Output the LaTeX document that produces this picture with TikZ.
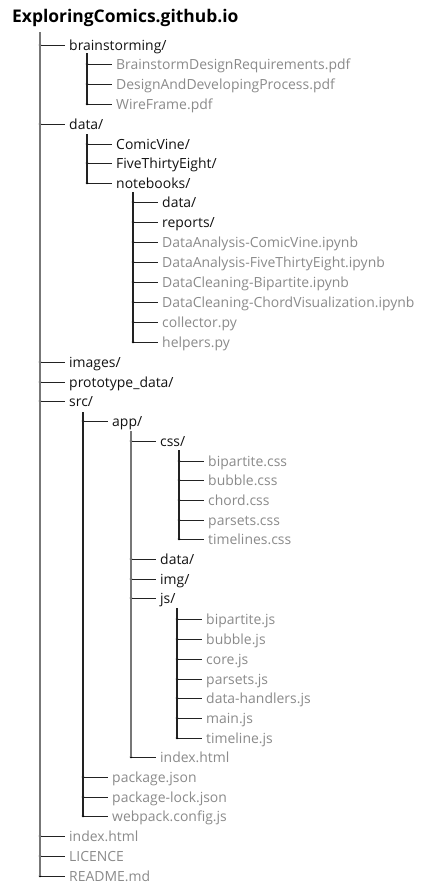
\documentclass[tikz,border=0pt]{standalone}
\usepackage{fontspec}
\setmainfont{Open Sans}
\definecolor{filegray}{HTML}{8A8A8A}
\definecolor{dirblack}{HTML}{111111}
\definecolor{trunkgray}{HTML}{777777}
\definecolor{linedark}{HTML}{222222}

% one entry of the tree: junction x, row y, name, style, label
\newcommand\treeitem[5]{%
  \coordinate (j-#3) at (#1,#2);
  \node[#4] (#3) at ([xshift=25bp]j-#3) {#5};
  \draw[branch] (j-#3) -- (#3.west);
  \fill[black] (j-#3) circle (1.4bp);
}

\begin{document}
\begin{tikzpicture}[x=1bp,y=-1bp,
  entry/.style={anchor=west, inner xsep=4bp, inner ysep=0bp,
    text height=11bp, text depth=0bp, font=\fontsize{14}{16}\selectfont},
  folder/.style={entry, text=dirblack},
  file/.style={entry, text=filegray},
  branch/.style={draw=linedark, line width=0.9bp},
  trunk/.style={draw=linedark, line width=1.1bp},
  graytrunk/.style={draw=trunkgray, line width=1.3bp}]
\useasboundingbox (0,0) rectangle (427,883);

% repository name
\node[anchor=west, inner sep=0pt, font=\bfseries\fontsize{17.5}{20}\selectfont, text=black]
  (root) at (12,18) {ExploringComics.github.io};

% top-level entries
\coordinate (t-root) at (40,32);
\treeitem{40}{45}{bs}{folder}{brainstorming/}
\treeitem{40}{124}{data}{folder}{data/}
\treeitem{40}{362}{images}{folder}{images/}
\treeitem{40}{382}{proto}{folder}{prototype\_data/}
\treeitem{40}{401}{src}{folder}{src/}
\treeitem{40}{836}{idx}{file}{index.html}
\treeitem{40}{856}{lic}{file}{LICENCE}
\treeitem{40}{876}{readme}{file}{README.md}
\draw[graytrunk] (t-root) -- (j-readme);

% brainstorming/
\coordinate (t-bs) at (87,53);
\treeitem{87}{64}{bsdr}{file}{BrainstormDesignRequirements.pdf}
\treeitem{87}{84}{dadp}{file}{DesignAndDevelopingProcess.pdf}
\treeitem{87}{104}{wf}{file}{WireFrame.pdf}
\draw[trunk] (t-bs) -- (j-wf);

% data/
\coordinate (t-data) at (87,134);
\treeitem{87}{144}{cv}{folder}{ComicVine/}
\treeitem{87}{163}{fte}{folder}{FiveThirtyEight/}
\treeitem{87}{183}{nb}{folder}{notebooks/}
\draw[trunk] (t-data) -- (j-nb);

% data/notebooks/
\coordinate (t-nb) at (133,192);
\treeitem{133}{202}{nbdata}{folder}{data/}
\treeitem{133}{222}{nbrep}{folder}{reports/}
\treeitem{133}{242}{dacv}{file}{DataAnalysis-ComicVine.ipynb}
\treeitem{133}{262}{dafte}{file}{DataAnalysis-FiveThirtyEight.ipynb}
\treeitem{133}{282}{dcbp}{file}{DataCleaning-Bipartite.ipynb}
\treeitem{133}{302}{dccv}{file}{DataCleaning-ChordVisualization.ipynb}
\treeitem{133}{322}{coll}{file}{collector.py}
\treeitem{133}{342}{help}{file}{helpers.py}
\draw[trunk] (t-nb) -- (j-help);

% src/
\coordinate (t-src) at (83,412);
\treeitem{83}{421}{app}{folder}{app/}
\treeitem{83}{777}{pkg}{file}{package.json}
\treeitem{83}{797}{pkgl}{file}{package-lock.json}
\treeitem{83}{816}{wp}{file}{webpack.config.js}
\draw[trunk] (t-src) -- (j-wp);

% src/app/
\coordinate (t-app) at (131,431);
\treeitem{131}{441}{css}{folder}{css/}
\treeitem{131}{559}{appdata}{folder}{data/}
\treeitem{131}{579}{appimg}{folder}{img/}
\treeitem{131}{598}{js}{folder}{js/}
\treeitem{131}{757}{appidx}{file}{index.html}
\draw[graytrunk] (t-app) -- (j-appidx);

% src/app/css/
\coordinate (t-css) at (179,450);
\treeitem{179}{461}{bipcss}{file}{bipartite.css}
\treeitem{179}{480}{bubcss}{file}{bubble.css}
\treeitem{179}{500}{chcss}{file}{chord.css}
\treeitem{179}{520}{parcss}{file}{parsets.css}
\treeitem{179}{539}{tlcss}{file}{timelines.css}
\draw[trunk] (t-css) -- (j-tlcss);

% src/app/js/
\coordinate (t-js) at (177,608);
\treeitem{177}{619}{bipjs}{file}{bipartite.js}
\treeitem{177}{639}{bubjs}{file}{bubble.js}
\treeitem{177}{659}{corejs}{file}{core.js}
\treeitem{177}{679}{parjs}{file}{parsets.js}
\treeitem{177}{698}{dhjs}{file}{data-handlers.js}
\treeitem{177}{718}{mainjs}{file}{main.js}
\treeitem{177}{738}{tljs}{file}{timeline.js}
\draw[trunk] (t-js) -- (j-tljs);
\end{tikzpicture}
\end{document}
